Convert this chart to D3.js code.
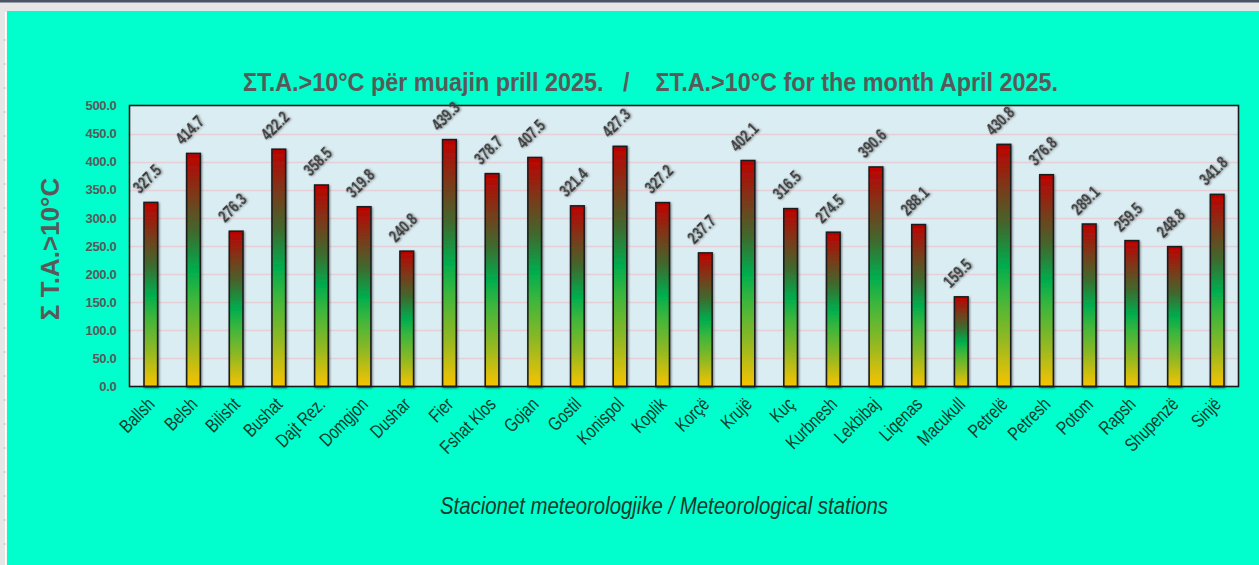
<!DOCTYPE html>
<html>
<head>
<meta charset="utf-8">
<script src="https://cdn.jsdelivr.net/npm/d3@7"></script>
<style>
  html, body { margin: 0; padding: 0; background: #e6e6e6; }
  svg { display: block; }
</style>
</head>
<body>
<svg id="chart" width="1259" height="565"></svg>
<script>
// Sum of active temperatures above 10°C, April 2025, by station
const stations = ["Ballsh", "Belsh", "Bilisht", "Bushat", "Dajt Rez.", "Domgjon", "Dushar", "Fier",
  "Fshat Klos", "Gojan", "Gostil", "Konispol", "Koplik", "Korçë", "Krujë", "Kuç", "Kurbnesh",
  "Lekbibaj", "Liqenas", "Macukull", "Petrelë", "Petresh", "Potom", "Rapsh", "Shupenzë", "Sinjë"];
const sums = [327.5, 414.7, 276.3, 422.2, 358.5, 319.8, 240.8, 439.3,
  378.7, 407.5, 321.4, 427.3, 327.2, 237.7, 402.1, 316.5, 274.5,
  390.6, 288.1, 159.5, 430.8, 376.8, 289.1, 259.5, 248.8, 341.8];
const yTicks = [0, 50, 100, 150, 200, 250, 300, 350, 400, 450, 500];

const titleText = "ΣT.A.>10°C për muajin prill 2025.   /    ΣT.A.>10°C for the month April 2025.";
const yTitle = "Σ T.A.>10°C";
const xTitle = "Stacionet meteorologjike / Meteorological stations";

const W = 1259, H = 565;
const plot = { left: 129.5, top: 105.5, right: 1238.5, bottom: 386.5 };
const sans = "'Liberation Sans', Arial, sans-serif";

const svg = d3.select("#chart");
const defs = svg.append("defs");

// vertical bar fill: gold at the base, green through the middle, red at the top
const grad = defs.append("linearGradient")
  .attr("id", "barFill").attr("x1", 0).attr("y1", 1).attr("x2", 0).attr("y2", 0);
[[0, "#f7c300"], [0.2, "#8fb823"], [0.38, "#3bb63c"], [0.5, "#00ad4e"],
 [0.66, "#3e6a2e"], [0.82, "#7a3a1a"], [1, "#bf0000"]]
  .forEach(([o, c]) => grad.append("stop").attr("offset", o).attr("stop-color", c));

const soft = defs.append("filter").attr("id", "soft")
  .attr("x", "-20%").attr("y", "-20%").attr("width", "160%").attr("height", "160%");
soft.append("feDropShadow").attr("dx", 1).attr("dy", 1).attr("stdDeviation", 1.1)
  .attr("flood-color", "#000").attr("flood-opacity", 0.45);

const glow = defs.append("filter").attr("id", "glow")
  .attr("x", "-30%").attr("y", "-60%").attr("width", "160%").attr("height", "220%");
glow.append("feDropShadow").attr("dx", 1).attr("dy", 1).attr("stdDeviation", 1.2)
  .attr("flood-color", "#555").attr("flood-opacity", 0.7);

// window frame around the chart area
svg.append("rect").attr("x", 0).attr("y", 0).attr("width", W).attr("height", H).attr("fill", "#e6e6e6");
svg.append("rect").attr("x", 0).attr("y", 0).attr("width", W).attr("height", 2.5).attr("fill", "#4b5366");
svg.append("rect").attr("x", 5).attr("y", 12).attr("width", 1.5).attr("height", H - 12).attr("fill", "#ffffff");
d3.range(40, H, 24).forEach(y => {
  svg.append("line").attr("x1", 3).attr("x2", 6).attr("y1", y).attr("y2", y)
    .attr("stroke", "#c8c8c8").attr("stroke-width", 1);
});
svg.append("rect").attr("x", 7).attr("y", 11).attr("width", W - 7).attr("height", H - 11).attr("fill", "#00ffcc");

// scales
const x = d3.scaleBand().domain(stations).range([plot.left, plot.right]).paddingInner(0.68).paddingOuter(0.34);
const y = d3.scaleLinear().domain([0, 500]).range([plot.bottom, plot.top]);

// plot background and gridlines
svg.append("rect").attr("x", plot.left).attr("y", plot.top)
  .attr("width", plot.right - plot.left).attr("height", plot.bottom - plot.top)
  .attr("fill", "#daedf3");

svg.append("g")
  .selectAll("line").data(yTicks.slice(1, -1)).join("line")
  .attr("x1", plot.left).attr("x2", plot.right)
  .attr("y1", d => Math.round(y(d)) + 0.5).attr("y2", d => Math.round(y(d)) + 0.5)
  .attr("stroke", "#e6cfd6").attr("stroke-width", 1.5);

// y axis labels
const yAxis = d3.axisLeft(y).tickValues(yTicks).tickFormat(d3.format(".1f")).tickSize(0).tickPadding(13);
const gy = svg.append("g").attr("transform", `translate(${plot.left},0)`).call(yAxis);
gy.select(".domain").remove();
gy.selectAll("text")
  .attr("font-family", sans).attr("font-weight", "bold").attr("font-size", 13)
  .attr("fill", "#595959").attr("letter-spacing", "-0.3px");

// bars
svg.append("g")
  .selectAll("rect").data(stations).join("rect")
  .attr("x", d => x(d))
  .attr("y", (d, i) => y(sums[i]))
  .attr("width", x.bandwidth())
  .attr("height", (d, i) => y(0) - y(sums[i]))
  .attr("fill", "url(#barFill)")
  .attr("stroke", "#1e1e1e").attr("stroke-width", 1.6)
  .attr("filter", "url(#soft)");

// plot border
svg.append("rect").attr("x", plot.left).attr("y", plot.top)
  .attr("width", plot.right - plot.left).attr("height", plot.bottom - plot.top)
  .attr("fill", "none").attr("stroke", "#1a1a1a").attr("stroke-width", 1.6);

// value labels, rotated and condensed
svg.append("g")
  .selectAll("text").data(stations).join("text")
  .attr("transform", (d, i) => `translate(${x(d) + x.bandwidth() / 2 - 11},${y(sums[i]) - 8}) rotate(-45) scale(0.76,1)`)
  .attr("font-family", sans).attr("font-weight", "bold").attr("font-size", 17)
  .attr("fill", "#3a3a3a").attr("filter", "url(#glow)")
  .text((d, i) => sums[i].toFixed(1));

// x axis station labels, condensed
const xAxis = d3.axisBottom(x).tickSize(0).tickPadding(0);
const gx = svg.append("g").attr("transform", `translate(0,${plot.bottom})`).call(xAxis);
gx.select(".domain").remove();
gx.selectAll("text")
  .attr("font-family", sans).attr("font-size", 19).attr("fill", "#0d3a2c")
  .attr("text-anchor", "end").attr("dy", null).attr("y", 0)
  .attr("transform", "translate(5,19) rotate(-45) scale(0.78,1)");

// titles
svg.append("text").attr("x", 243).attr("y", 91)
  .attr("font-family", sans).attr("font-weight", "bold").attr("font-size", 25.5)
  .attr("textLength", 815).attr("lengthAdjust", "spacingAndGlyphs")
  .attr("fill", "#595959").style("white-space", "pre").text(titleText);

svg.append("text").attr("transform", "translate(59,249) rotate(-90)").attr("text-anchor", "middle")
  .attr("font-family", sans).attr("font-weight", "bold").attr("font-size", 26)
  .attr("fill", "#595959").text(yTitle);

svg.append("text").attr("x", 440).attr("y", 514)
  .attr("font-family", sans).attr("font-style", "italic").attr("font-size", 24)
  .attr("textLength", 448).attr("lengthAdjust", "spacingAndGlyphs")
  .attr("fill", "#143a2e").text(xTitle);
</script>
</body>
</html>
